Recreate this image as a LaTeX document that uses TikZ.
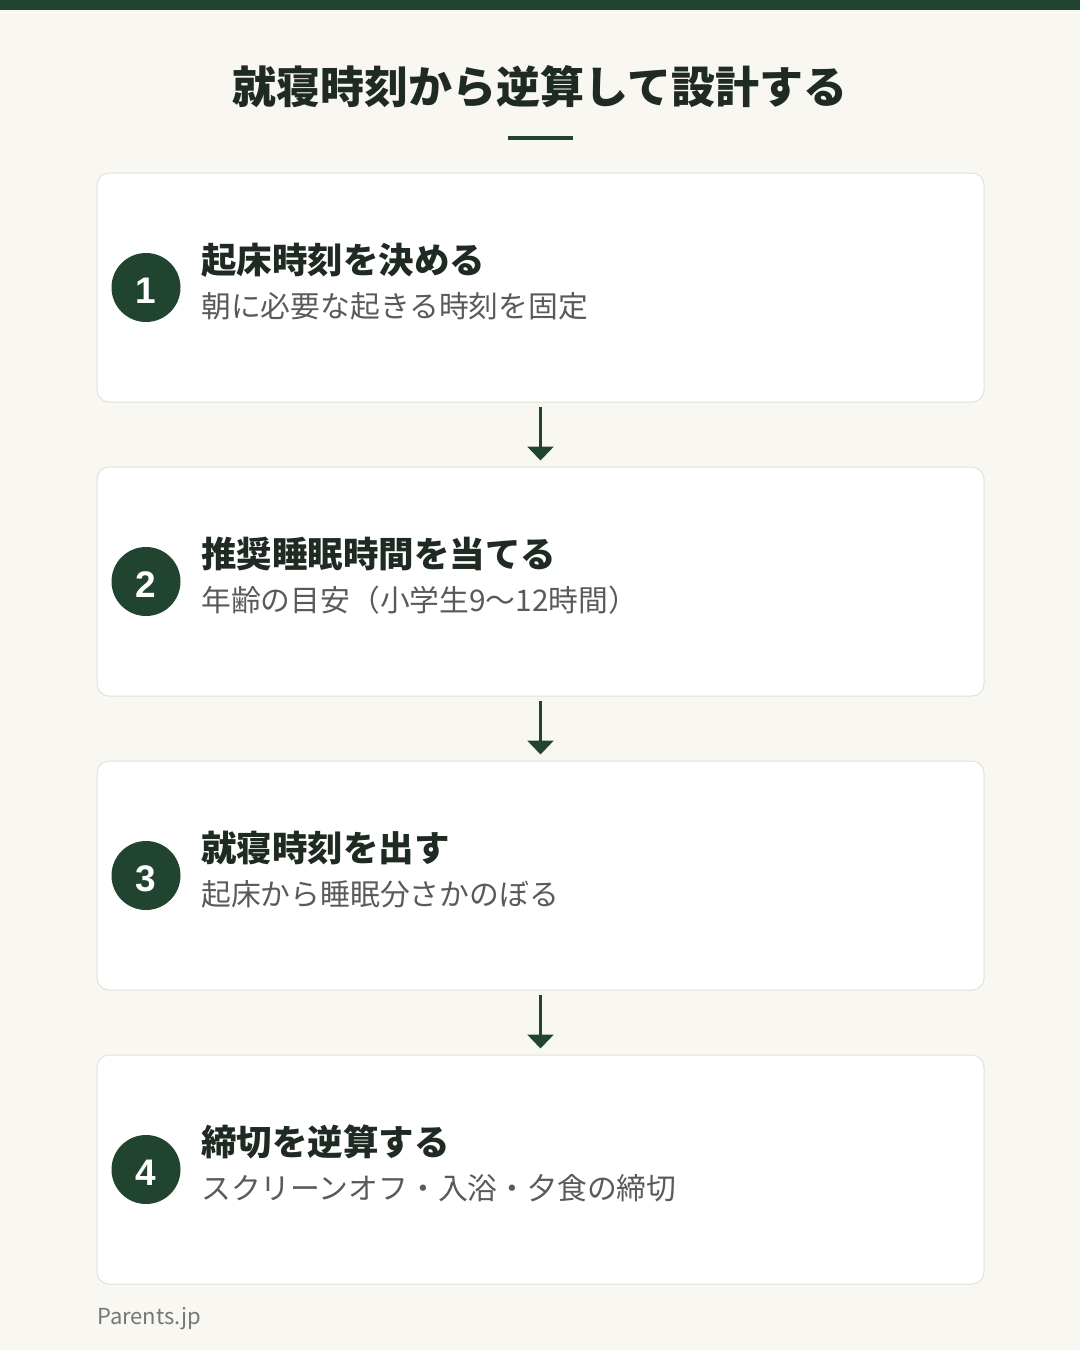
\documentclass[tikz,border=0pt]{standalone}
\usepackage{fontspec}
\setmainfont{Noto Sans CJK JP}
\newfontfamily\numfont{Liberation Sans}
\usetikzlibrary{arrows.meta}
\definecolor{bgc}{HTML}{F8F7F2}
\definecolor{dgreen}{HTML}{214430}
\definecolor{ttl}{HTML}{1F2A23}
\definecolor{sub}{HTML}{5A5A5A}
\definecolor{bord}{HTML}{E3E1D8}
\definecolor{foot}{HTML}{777777}
\tikzset{
  card/.style={draw=bord, line width=1pt, fill=white, rounded corners=12pt, minimum width=887pt, minimum height=229pt, inner sep=0pt},
  numc/.style={circle, fill=dgreen, minimum size=69pt, inner sep=0pt},
  numt/.style={anchor=base, inner sep=0pt, text=white, font=\numfont\fontsize{37pt}{42pt}\selectfont\bfseries},
  head/.style={anchor=base west, inner sep=0pt, text=ttl, font=\fontsize{35.5pt}{40pt}\selectfont\bfseries},
  subt/.style={anchor=base west, inner sep=0pt, text=sub, font=\fontsize{29.8pt}{34pt}\selectfont},
  flow/.style={draw=dgreen, line width=3pt, -{Triangle[width=26pt,length=14pt]}, shorten <=4pt, shorten >=6pt}
}
\begin{document}
\begin{tikzpicture}[x=1pt,y=-1pt]
\useasboundingbox (0,0) rectangle (1080,1350);
\fill[bgc] (0,0) rectangle (1080,1350);
\fill[dgreen] (0,0) rectangle (1080,10);
\node[anchor=base, inner sep=0pt, text=ttl, font=\fontsize{44pt}{50pt}\selectfont\bfseries] (title) at (540,103) {就寝時刻から逆算して設計する};
\fill[dgreen] (508,136) rectangle (573,140);
\foreach \i/\yc/\h/\s in {1/287.5/起床時刻を決める/朝に必要な起きる時刻を固定,
                          2/581.5/推奨睡眠時間を当てる/年齢の目安（小学生9〜12時間）,
                          3/875.5/就寝時刻を出す/起床から睡眠分さかのぼる,
                          4/1169.5/締切を逆算する/スクリーンオフ・入浴・夕食の締切}{
  \node[card] (c\i) at (540.5,\yc) {};
  \node[numc] (n\i) at (146,\yc) {};
  \node[numt] (t\i) at (146,\yc+16) {\i};
  \node[head] (h\i) at (201,\yc-14) {\h};
  \node[subt] (s\i) at (201,\yc+30) {\s};
}
\draw[flow] (c1.south) -- (c2.north);
\draw[flow] (c2.south) -- (c3.north);
\draw[flow] (c3.south) -- (c4.north);
\node[anchor=base west, inner sep=0pt, text=foot, font=\fontsize{22pt}{26pt}\selectfont] (foot) at (97,1324) {Parents.jp};
\end{tikzpicture}
\end{document}
